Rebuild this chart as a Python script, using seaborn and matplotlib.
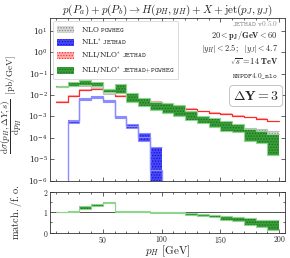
import numpy as np
import matplotlib
matplotlib.use("Agg")
import matplotlib.pyplot as plt
from matplotlib.patches import Patch
from matplotlib.ticker import MultipleLocator, FixedLocator, FuncFormatter, NullLocator
import seaborn as sns

# ---------------- data ----------------
edges = [10, 20, 30, 40, 50, 60, 70, 80, 90, 100, 110, 120, 130, 140, 150, 160, 170, 180, 190, 200]

grey_lo = [2.4e-2, 2.6e-2, 2.5e-2, 2.2e-2, 1.05e-2, 1.8e-2, 6.9e-3, 4.2e-3, 2.8e-3, 2.4e-3,
           1.8e-3, 1.17e-3, 7.9e-4, 6.0e-4, 4.5e-4, 3.3e-4, 2.4e-4, 2.0e-4, 1.45e-4]
grey_hi = [2.7e-2, 3.2e-2, 3.0e-2, 2.6e-2, 1.3e-2, 2.2e-2, 8.3e-3, 5.0e-3, 3.3e-3, 2.8e-3,
           2.1e-3, 1.38e-3, 9.3e-4, 7.2e-4, 5.4e-4, 4.0e-4, 3.0e-4, 2.5e-4, 2.0e-4]

green_lo = [2.4e-2, 2.5e-2, 3.0e-2, 2.7e-2, 1.4e-2, 1.2e-2, 4.8e-3, 2.9e-3, 2.0e-3, 1.45e-3,
            1.0e-3, 7.1e-4, 5.0e-4, 3.2e-4, 2.0e-4, 1.9e-4, 7.1e-5, 5.9e-5, 1.6e-5]
green_hi = [2.7e-2, 4.0e-2, 4.8e-2, 4.2e-2, 1.8e-2, 3.2e-2, 1.26e-2, 7.1e-3, 4.5e-3, 4.2e-3,
            3.5e-3, 1.7e-3, 1.07e-3, 8.5e-4, 5.9e-4, 4.2e-4, 2.7e-4, 2.0e-4, 1.45e-4]

red_mid = [4.6e-3, 8.9e-3, 1.7e-2, 1.9e-2, 1.3e-2, 8.9e-3, 6.9e-3, 5.6e-3, 4.8e-3, 3.9e-3,
           2.6e-3, 2.2e-3, 1.7e-3, 1.45e-3, 1.3e-3, 1.07e-3, 8.9e-4, 7.6e-4, 5.9e-4]
red_lo = [4.2e-3, 8.2e-3, 1.56e-2, 1.75e-2, 1.2e-2, 8.2e-3, 6.3e-3, 5.2e-3, 4.4e-3, 3.6e-3,
          2.4e-3, 2.0e-3, 1.56e-3, 1.33e-3, 1.2e-3, 9.8e-4, 8.2e-4, 7.0e-4, 5.4e-4]
red_hi = [5.0e-3, 9.7e-3, 1.85e-2, 2.07e-2, 1.42e-2, 9.7e-3, 7.5e-3, 6.1e-3, 5.2e-3, 4.2e-3,
          2.8e-3, 2.4e-3, 1.85e-3, 1.58e-3, 1.42e-3, 1.17e-3, 9.7e-4, 8.3e-4, 6.4e-4]

blue_edges = [20, 30, 40, 50, 60, 70, 80, 90, 100]
blue_mid = [6.0e-4, 6.5e-3, 8.0e-3, 5.3e-3, 9.0e-4, 3.6e-4, 1.1e-4, 3.0e-6]
blue_lo = [5.0e-4, 5.9e-3, 7.1e-3, 4.8e-3, 8.1e-4, 3.0e-4, 7.1e-5, 3.0e-7]
blue_hi = [7.1e-4, 7.1e-3, 8.9e-3, 5.9e-3, 1.0e-3, 4.2e-4, 1.6e-4, 3.9e-5]

ratio_lo = [0.99, 1.01, 1.18, 1.30, 1.46, 1.03, 1.01, 1.00, 0.98, 0.96,
            0.95, 0.86, 0.80, 0.75, 0.60, 0.55, 0.38, 0.30, 0.15]
ratio_hi = [1.01, 1.05, 1.28, 1.38, 1.50, 1.07, 1.05, 1.04, 1.02, 1.00,
            0.99, 0.96, 0.91, 0.88, 0.82, 0.78, 0.70, 0.64, 0.62]

legend_labels = [r"NLO $\mathtt{POWHEG}$", r"NLL$^{*}$ $\mathtt{JETHAD}$",
                 r"NLL/NLO$^{*}$ $\mathtt{JETHAD}$", r"NLL/NLO$^{*}$ $\mathtt{JETHAD{+}POWHEG}$"]
x_ticks = [50, 100, 150, 200]
y_ticks = [1e-6, 1e-5, 1e-4, 1e-3, 1e-2, 1e-1, 1e0, 1e1]
ratio_ticks = [0, 1, 2]

# ---------------- style ----------------
sns.set_theme(style="ticks")
plt.rcParams.update({
    "font.family": ["DejaVu Serif"],
    "mathtext.fontset": "cm",
    "hatch.linewidth": 0.6,
    "xtick.direction": "in",
    "ytick.direction": "in",
    "xtick.top": True,
    "ytick.right": True,
    "axes.linewidth": 0.6,
    "axes.edgecolor": "#333333",
})

C_GREY_F, C_GREY_H, C_GREY_E = "#d9d9d9", "#8a8a8a", "#bdbdbd"
C_BLUE_F, C_BLUE_H, C_BLUE_E = "#4646ff", "#1414b4", "#8c8cff"
C_RED_F, C_RED_L = "#ffb0b0", "#ff2b2b"
C_GRN_F, C_GRN_H, C_GRN_E = "#3a9c3a", "#167016", "#8fd48f"


def ext(v):
    return list(v) + [v[-1]]


fig = plt.figure(figsize=(2.9, 2.58), dpi=100)
ax = fig.add_axes([0.172, 0.300, 0.811, 0.631])
axr = fig.add_axes([0.172, 0.098, 0.811, 0.159])


def band(a, e, lo, hi, fc, hc, ec, z):
    a.fill_between(e, ext(lo), ext(hi), step="post", facecolor=fc, edgecolor=hc,
                   hatch="......", linewidth=0, zorder=z)
    a.stairs(lo, e, baseline=None, color=ec, lw=0.8, zorder=z + 0.1)
    a.stairs(hi, e, baseline=None, color=ec, lw=0.8, zorder=z + 0.1)


# red band + line
ax.fill_between(edges, ext(red_lo), ext(red_hi), step="post", color=C_RED_F, lw=0, zorder=2)
sns.lineplot(x=edges, y=ext(red_mid), drawstyle="steps-post", color=C_RED_L, lw=0.9,
             ax=ax, zorder=2.2, legend=False)
# grey band
band(ax, edges, grey_lo, grey_hi, C_GREY_F, C_GREY_H, C_GREY_E, 3)
# blue band + line
band(ax, blue_edges, blue_lo, blue_hi, C_BLUE_F, C_BLUE_H, C_BLUE_E, 4)
ax.stairs(blue_mid, blue_edges, baseline=1e-12, color=C_BLUE_E, lw=1.0, zorder=4.2)
# green band
band(ax, edges, green_lo, green_hi, C_GRN_F, C_GRN_H, C_GRN_E, 5)

ax.set_yscale("log")
ax.set_xlim(5, 205)
ax.set_ylim(1e-6, 40)
ax.yaxis.set_major_locator(FixedLocator(y_ticks))
ax.yaxis.set_minor_locator(NullLocator())
ax.xaxis.set_major_locator(FixedLocator(x_ticks))
ax.xaxis.set_minor_locator(MultipleLocator(10))
ax.tick_params(axis="both", which="major", labelsize=5.5, length=3, width=0.5, pad=1.5)
ax.tick_params(axis="both", which="minor", length=1.5, width=0.5)
ax.tick_params(axis="x", labelbottom=False)

ax.set_title(r"$p(P_a) + p(P_b) \to H(p_H, y_H) + X + {\rm jet}(p_J, y_J)$",
             fontsize=8, pad=2)
ax.set_ylabel(r"$\dfrac{\mathrm{d}\sigma(p_H, \Delta Y, s)}{\mathrm{d}p_H}\ \ [\mathrm{pb/GeV}]$",
              fontsize=6.6)
ax.yaxis.set_label_coords(-0.108, 0.47)

# legend
handles = [
    Patch(facecolor=C_GREY_F, edgecolor=C_GREY_H, hatch="......", lw=0),
    Patch(facecolor=C_BLUE_F, edgecolor=C_BLUE_H, hatch="......", lw=0),
    Patch(facecolor=C_RED_F, edgecolor=C_RED_L, hatch="......", lw=0),
    Patch(facecolor=C_GRN_F, edgecolor=C_GRN_H, hatch="......", lw=0),
]
leg = ax.legend(handles, legend_labels, loc="upper left", bbox_to_anchor=(0.0, 1.0),
                fontsize=5.2, frameon=True, handlelength=2.4, handleheight=1.1,
                labelspacing=0.5, borderpad=0.5, handletextpad=0.9, fancybox=True)
leg.get_frame().set_edgecolor("#cccccc")
leg.get_frame().set_linewidth(0.6)

tx = 0.97
ax.text(tx, 0.965, r"$\mathtt{JETHAD}$ $\mathtt{v0.5.0}$", transform=ax.transAxes, ha="right",
        va="center", fontsize=5.3, color="#8a8a8a")
ax.text(tx, 0.893, r"$\mathbf{20} < \mathbf{p_J/GeV} < \mathbf{60}$", transform=ax.transAxes,
        ha="right", va="center", fontsize=6)
ax.text(tx, 0.813, r"$|y_H| < \mathbf{2.5};\ \ |y_J| < \mathbf{4.7}$", transform=ax.transAxes,
        ha="right", va="center", fontsize=6)
ax.text(tx, 0.733, r"$\sqrt{s} = \mathbf{14\ TeV}$", transform=ax.transAxes,
        ha="right", va="center", fontsize=6)
ax.text(tx, 0.642, r"$\mathtt{NNPDF4.0\_nlo}$", transform=ax.transAxes,
        ha="right", va="center", fontsize=5.3)
ax.text(0.975, 0.52, r"$\mathbf{\Delta Y = 3}$", transform=ax.transAxes, ha="right",
        va="center", fontsize=10,
        bbox=dict(boxstyle="round,pad=0.25", fc="white", ec="#bbbbbb", lw=0.6))

# ratio panel
axr.axhline(1, color="#555555", lw=0.7, zorder=1)
band(axr, edges, ratio_lo, ratio_hi, C_GRN_F, C_GRN_H, C_GRN_E, 3)
axr.set_xlim(5, 205)
axr.set_ylim(0, 2)
axr.yaxis.set_major_locator(FixedLocator(ratio_ticks))
axr.xaxis.set_major_locator(FixedLocator(x_ticks))
axr.xaxis.set_minor_locator(MultipleLocator(10))
axr.yaxis.set_minor_locator(MultipleLocator(0.5))
fmt = FuncFormatter(lambda v, p: r"$%g$" % v)
axr.xaxis.set_major_formatter(fmt)
axr.yaxis.set_major_formatter(fmt)
axr.tick_params(axis="both", which="major", labelsize=5.5, length=3, width=0.5, pad=1.2)
axr.tick_params(axis="both", which="minor", length=1.5, width=0.5)
axr.set_xlabel(r"$p_H\ [\mathrm{GeV}]$", fontsize=8, labelpad=-1)
axr.set_ylabel(r"$\mathrm{match./f.o.}$", fontsize=7.5)
axr.yaxis.set_label_coords(-0.11, 0.5)

fig.savefig("out.png", dpi=100)
